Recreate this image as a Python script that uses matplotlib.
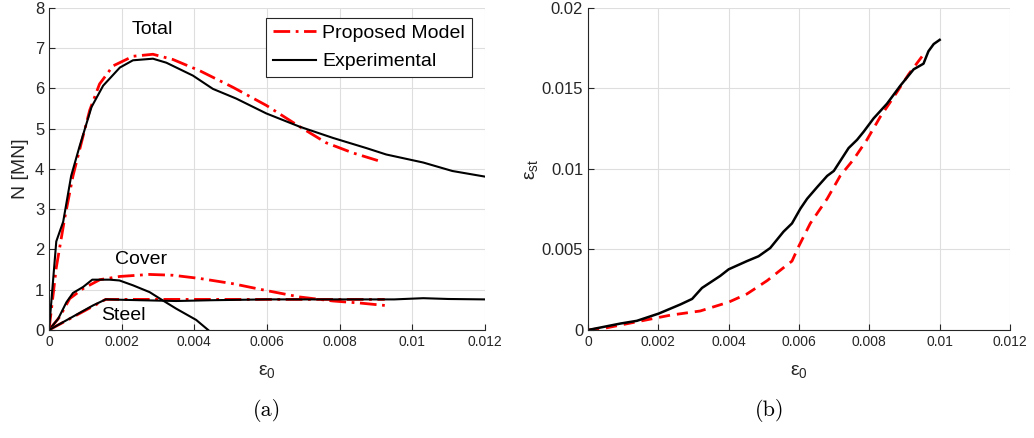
import matplotlib
matplotlib.use('Agg')
import matplotlib.pyplot as plt

# ---- (a) axial force vs strain ----
total_exp_x = [0, 0.0002, 0.00039, 0.00061, 0.00084, 0.00117, 0.00149, 0.00195, 0.00231, 0.00286,
               0.00323, 0.00396, 0.00451, 0.00515, 0.00598, 0.0069, 0.00782, 0.00873, 0.00928,
               0.0103, 0.0111, 0.012]
total_exp_y = [0, 2.2, 2.69, 3.83, 4.56, 5.54, 6.07, 6.52, 6.70, 6.74,
               6.64, 6.32, 5.99, 5.75, 5.38, 5.05, 4.77, 4.52, 4.36,
               4.16, 3.95, 3.81]
total_mod_x = [0, 0.0002, 0.00043, 0.00066, 0.00089, 0.00112, 0.00139, 0.00176, 0.00231, 0.00286,
               0.00341, 0.00415, 0.00506, 0.00598, 0.0069, 0.00763, 0.00836, 0.00919]
total_mod_y = [0, 1.55, 2.77, 3.83, 4.65, 5.46, 6.11, 6.56, 6.80, 6.85,
               6.72, 6.44, 6.03, 5.58, 5.05, 4.65, 4.40, 4.17]

cover_exp_x = [0, 0.00025, 0.00048, 0.00066, 0.00094, 0.00119, 0.00167, 0.00194, 0.00231, 0.00277,
               0.00305, 0.0035, 0.00405, 0.00438]
cover_exp_y = [0, 0.275, 0.69, 0.92, 1.07, 1.25, 1.25, 1.23, 1.11, 0.94,
               0.78, 0.53, 0.25, 0.0]
cover_mod_x = [0, 0.00029, 0.00057, 0.00094, 0.0014, 0.00195, 0.00277, 0.00341, 0.00415, 0.00506,
               0.00598, 0.0069, 0.00782, 0.00855, 0.00924]
cover_mod_y = [0, 0.32, 0.78, 1.03, 1.25, 1.33, 1.38, 1.36, 1.28, 1.15,
               0.98, 0.82, 0.72, 0.67, 0.61]

steel_exp_x = [0, 0.00121, 0.00156, 0.0025, 0.0035, 0.0045, 0.006, 0.008, 0.0095, 0.0103, 0.011, 0.012]
steel_exp_y = [0, 0.61, 0.76, 0.74, 0.72, 0.74, 0.76, 0.76, 0.76, 0.79, 0.77, 0.76]
steel_mod_x = [0, 0.00156, 0.00924]
steel_mod_y = [0, 0.76, 0.76]

# ---- (b) steel strain vs axial strain ----
est_exp_x = [0, 0.00092, 0.00139, 0.00201, 0.00263, 0.00296, 0.00324, 0.00376, 0.004, 0.00452,
             0.00485, 0.00518, 0.00556, 0.0058, 0.00604, 0.00623, 0.00651, 0.0068, 0.00699,
             0.00741, 0.00765, 0.00784, 0.00812, 0.0085, 0.00888, 0.00926, 0.00954, 0.00968,
             0.00983, 0.01]
est_exp_y = [0, 0.0004, 0.00057, 0.00102, 0.00159, 0.00193, 0.00261, 0.00336, 0.00377, 0.00428,
             0.00458, 0.00509, 0.00611, 0.00662, 0.00754, 0.00815, 0.00886, 0.00957, 0.00988,
             0.0113, 0.01181, 0.01232, 0.01314, 0.01405, 0.01517, 0.01619, 0.01654, 0.01731,
             0.01776, 0.01802]
est_mod_x = [0, 0.00054, 0.00139, 0.00234, 0.00319, 0.004, 0.00452, 0.00509, 0.00556, 0.0058,
             0.00599, 0.00632, 0.0068, 0.00717, 0.00755, 0.00793, 0.00831, 0.00869, 0.00912, 0.00954]
est_mod_y = [0, 0.00014, 0.00051, 0.00092, 0.00118, 0.00173, 0.00224, 0.00306, 0.00387, 0.00428,
             0.00519, 0.00662, 0.00815, 0.00957, 0.01059, 0.01181, 0.01324, 0.01446, 0.01589, 0.01711]

x_ticks = [0, 0.002, 0.004, 0.006, 0.008, 0.01, 0.012]
x_ticklabels = ['0', '0.002', '0.004', '0.006', '0.008', '0.01', '0.012']
n_ticks = [0, 1, 2, 3, 4, 5, 6, 7, 8]
est_ticks = [0, 0.005, 0.01, 0.015, 0.02]
est_ticklabels = ['0', '0.005', '0.01', '0.015', '0.02']

plt.rcParams['font.family'] = ['Liberation Sans', 'DejaVu Sans']
plt.rcParams['mathtext.fontset'] = 'custom'
plt.rcParams['mathtext.rm'] = 'Liberation Sans'
plt.rcParams['mathtext.it'] = 'Liberation Sans'

DARK = '#262626'
GRID = '#dedede'

fig = plt.figure(figsize=(10.34, 4.38), dpi=100)
ax1 = fig.add_axes([0.0474, 0.2466, 0.4217, 0.7352])
ax2 = fig.add_axes([0.5687, 0.2466, 0.4081, 0.7352])


def style_axes(ax):
    ax.grid(True, color=GRID, linewidth=0.8)
    ax.set_axisbelow(True)
    for s in ['top', 'right']:
        ax.spines[s].set_visible(False)
    for s in ['left', 'bottom']:
        ax.spines[s].set_color(DARK)
        ax.spines[s].set_linewidth(0.8)
    ax.tick_params(direction='in', length=4, color=DARK, labelcolor=DARK, width=0.8)
    ax.set_xlim(0, 0.012)
    ax.set_xticks(x_ticks)
    ax.set_xticklabels(x_ticklabels, fontsize=10)
    ax.set_xlabel(r'$\varepsilon_0$', fontsize=14, color=DARK, labelpad=10)


red_dd = dict(color='red', linewidth=2.0, dashes=(6, 2, 1, 2))

# (a)
ax1.plot(total_mod_x, total_mod_y, label='Proposed Model', **red_dd)
ax1.plot(total_exp_x, total_exp_y, color='black', linewidth=1.5, label='Experimental')
ax1.plot(cover_mod_x, cover_mod_y, **red_dd)
ax1.plot(cover_exp_x, cover_exp_y, color='black', linewidth=1.5)
ax1.plot(steel_mod_x, steel_mod_y, **red_dd)
ax1.plot(steel_exp_x, steel_exp_y, color='black', linewidth=1.5)
style_axes(ax1)
ax1.set_ylim(0, 8)
ax1.set_yticks(n_ticks)
ax1.tick_params(axis='y', labelsize=12)
ax1.set_ylabel('N [MN]', fontsize=14, color=DARK, labelpad=4)
ax1.text(0.00285, 7.46, 'Total', fontsize=14, ha='center', va='center')
ax1.text(0.00254, 1.75, 'Cover', fontsize=14, ha='center', va='center')
ax1.text(0.00204, 0.37, 'Steel', fontsize=14, ha='center', va='center')
leg = ax1.legend(loc='upper right', bbox_to_anchor=(0.97, 0.97), fontsize=14, fancybox=False,
                 edgecolor=DARK, framealpha=1, handlelength=2.2, borderpad=0.35,
                 labelspacing=0.55, handletextpad=0.35, borderaxespad=0)
leg.get_frame().set_linewidth(0.8)

# (b)
ax2.plot(est_mod_x, est_mod_y, color='red', linewidth=2.0, dashes=(4, 2.5))
ax2.plot(est_exp_x, est_exp_y, color='black', linewidth=1.8)
style_axes(ax2)
ax2.set_ylim(0, 0.02)
ax2.set_yticks(est_ticks)
ax2.set_yticklabels(est_ticklabels, fontsize=12)
ax2.set_ylabel(r'$\varepsilon_{st}$', fontsize=14, color=DARK, labelpad=1)

fig.text(0.2586, 0.063, '(a)', fontsize=16, family='cmr10', ha='center', va='center')
fig.text(0.7447, 0.063, '(b)', fontsize=16, family='cmr10', ha='center', va='center')

fig.savefig('out.png', dpi=100)
plt.close(fig)
